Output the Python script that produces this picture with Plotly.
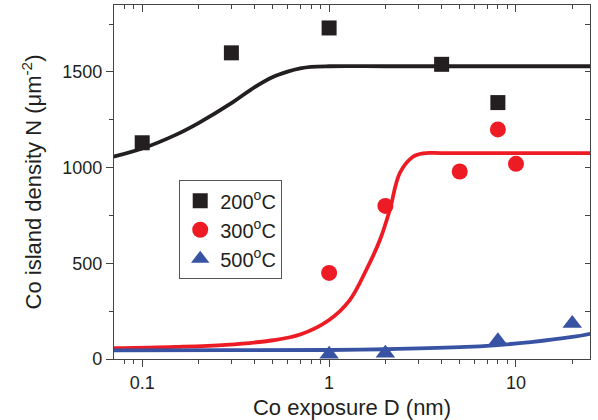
import plotly.graph_objects as go

# ---- data ----
d200_x = [0.1, 0.3, 1, 4, 8]
d200_y = [1130, 1600, 1730, 1540, 1340]
d300_x = [1, 2, 5, 8, 10]
d300_y = [450, 800, 980, 1200, 1020]
d500_x = [1, 2, 8, 20]
d500_y = [25, 30, 95, 185]

fit200_x = [0.07, 0.1, 0.15, 0.2, 0.3, 0.4, 0.5, 0.6, 0.7, 0.8, 1.0, 2, 5, 10, 25]
fit200_y = [1057, 1100, 1170, 1233, 1337, 1421, 1474, 1502, 1519, 1527, 1530, 1530, 1530, 1530, 1530]
fit300_x = [0.07, 0.15, 0.28, 0.5, 0.7, 1.0, 1.29, 1.58, 1.87, 2.11, 2.39, 2.81, 3.18, 4, 10, 25]
fit300_y = [56, 63, 74, 98, 128, 204, 308, 465, 622, 778, 972, 1057, 1075, 1076, 1076, 1076]
fit500_x = [0.07, 0.3, 1, 2, 5, 8, 12, 20, 25]
fit500_y = [45, 46, 47, 51, 62, 73, 88, 115, 132]

x_tickvals = [0.1, 1, 10]
x_ticktext = ["0.1", "1", "10"]
x_minor = [0.08, 0.09, 0.2, 0.3, 0.4, 0.5, 0.6, 0.7, 0.8, 0.9,
           2, 3, 4, 5, 6, 7, 8, 9, 20]
y_tickvals = [0, 500, 1000, 1500]

BLACK = "#231f20"
RED = "#ed1c24"
BLUE = "#3953a4"
FONT = "Liberation Sans, Arial, sans-serif"
XR = [-1.151, 1.396]
YR = [0, 1850]

fig = go.Figure()
fig.add_trace(go.Scatter(x=fit200_x, y=fit200_y, mode="lines", line=dict(color=BLACK, width=3.8, shape="spline"), showlegend=False))
fig.add_trace(go.Scatter(x=fit300_x, y=fit300_y, mode="lines", line=dict(color=RED, width=3.8, shape="spline"), showlegend=False))
fig.add_trace(go.Scatter(x=fit500_x, y=fit500_y, mode="lines", line=dict(color=BLUE, width=3.8, shape="spline"), showlegend=False))

fig.add_trace(go.Scatter(x=d200_x, y=d200_y, mode="markers", name="200<sup>o</sup>C", legendgroup="a",
                         marker=dict(symbol="square", size=15, color=BLACK)))
fig.add_trace(go.Scatter(x=d300_x, y=d300_y, mode="markers", name="300<sup>o</sup>C", legendgroup="b",
                         marker=dict(symbol="circle", size=16, color=RED)))
fig.add_trace(go.Scatter(x=d500_x, y=d500_y, mode="markers", name="500<sup>o</sup>C", legendgroup="c",
                         marker=dict(symbol="triangle-up", size=17, color=BLUE)))

# invisible trace for mirrored (inside-tick) axes
fig.add_trace(go.Scatter(x=[1], y=[100], xaxis="x2", yaxis="y2", mode="markers",
                         marker=dict(opacity=0), showlegend=False, hoverinfo="skip"))

axis_line = dict(showline=True, linecolor="#444444", linewidth=1.2, showgrid=False, zeroline=False)

fig.update_layout(
    width=598, height=420,
    margin=dict(l=114, r=8, t=5, b=61),
    paper_bgcolor="white", plot_bgcolor="white",
    font=dict(family=FONT, size=18, color=BLACK),
    xaxis=dict(type="log", range=XR, tickvals=x_tickvals, ticktext=x_ticktext,
               ticks="outside", ticklen=7, tickcolor="#444444",
               minor=dict(tickvals=x_minor, ticks="outside", ticklen=4, tickcolor="#444444"),
               title=dict(text="Co exposure D (nm)", standoff=8),
               **axis_line),
    yaxis=dict(range=YR, tickvals=y_tickvals, ticks="outside", ticklen=7, tickcolor="#444444",
               minor=dict(dtick=250, tick0=0, ticks="outside", ticklen=4, tickcolor="#444444"),
               title=dict(text="Co island density N (\u03bcm<sup>-2</sup>)", standoff=14),
               **axis_line),
    xaxis2=dict(type="log", range=XR, overlaying="x", side="top", tickvals=x_tickvals,
                showticklabels=False, ticks="inside", ticklen=7, tickcolor="#444444",
                minor=dict(tickvals=x_minor, ticks="inside", ticklen=4, tickcolor="#444444"),
                **axis_line),
    yaxis2=dict(range=YR, overlaying="y", side="right", tickvals=y_tickvals,
                showticklabels=False, ticks="inside", ticklen=5, tickcolor="#444444",
                minor=dict(dtick=250, tick0=0, ticks="inside", ticklen=5, tickcolor="#444444"),
                **axis_line),
    legend=dict(x=0.137, y=0.505, xanchor="left", yanchor="top",
                bgcolor="white", bordercolor="#555555", borderwidth=1,
                font=dict(size=20), itemsizing="trace", tracegroupgap=0),
    showlegend=True,
)

fig.write_html("out.html")
